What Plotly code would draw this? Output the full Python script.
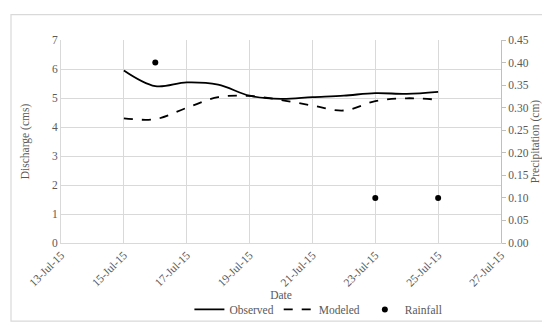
import plotly.graph_objects as go

dates = ["2015-07-15", "2015-07-16", "2015-07-17", "2015-07-18", "2015-07-19", "2015-07-20",
         "2015-07-21", "2015-07-22", "2015-07-23", "2015-07-24", "2015-07-25"]
observed = [5.95, 5.41, 5.54, 5.46, 5.08, 4.97, 5.03, 5.08, 5.17, 5.14, 5.21]
modeled = [4.30, 4.27, 4.66, 5.03, 5.07, 4.93, 4.74, 4.57, 4.89, 4.99, 4.94]
rain_dates = ["2015-07-16", "2015-07-23", "2015-07-25"]
rainfall = [0.40, 0.10, 0.10]

FONT = "Liberation Serif"
GRAY = "#595959"
GRID = "#d9d9d9"

fig = go.Figure()
fig.add_trace(go.Scatter(x=dates, y=observed, name="Observed", mode="lines",
                         line=dict(color="black", width=1.8, shape="spline", smoothing=1.0)))
fig.add_trace(go.Scatter(x=dates, y=modeled, name="Modeled", mode="lines",
                         line=dict(color="black", width=1.8, dash="dash", shape="spline", smoothing=1.0)))
fig.add_trace(go.Scatter(x=rain_dates, y=rainfall, name="Rainfall", mode="markers", yaxis="y2",
                         marker=dict(color="black", size=6)))

fig.update_layout(
    width=550, height=328,
    margin=dict(l=53, r=57, t=32, b=88),
    paper_bgcolor="white", plot_bgcolor="white",
    font=dict(family=FONT, size=11.5, color=GRAY),
    showlegend=True,
    legend=dict(orientation="h", x=0.585, xanchor="center", y=-0.327, yanchor="middle",
                font=dict(family=FONT, size=11.5, color=GRAY), itemwidth=30,
                bgcolor="rgba(0,0,0,0)"),
    xaxis=dict(type="date", range=["2015-07-13", "2015-07-27"], tick0="2015-07-13",
               dtick=2 * 86400000, tickformat="%-d-%b-%y", tickangle=-45,
               showgrid=True, gridcolor=GRID, gridwidth=1,
               showline=True, linecolor=GRID, linewidth=1, ticks="",
               title=dict(text="Date", font=dict(family=FONT, size=11.5, color=GRAY), standoff=2),
               zeroline=False),
    yaxis=dict(range=[0, 7], dtick=1, showgrid=True, gridcolor=GRID, gridwidth=1,
               showline=True, linecolor=GRID, ticks="", zeroline=False,
               title=dict(text="Discharge (cms)", font=dict(family=FONT, size=11.5, color=GRAY), standoff=19)),
    yaxis2=dict(range=[0, 0.45], dtick=0.05, tickformat=".2f", overlaying="y", side="right",
                showgrid=False, showline=True, linecolor="#bfbfbf", ticks="outside",
                ticklen=4, tickcolor="#bfbfbf", zeroline=False,
                title=dict(text="Precipitation (cm)", font=dict(family=FONT, size=11.5, color=GRAY), standoff=0)),
    shapes=[dict(type="rect", xref="paper", yref="paper",
                 x0=(3 - 53) / 440, x1=(543 - 53) / 440,
                 y0=(240 - 320) / 208, y1=(240 - 6) / 208,
                 line=dict(color="#d9d9d9", width=1.2), fillcolor="rgba(0,0,0,0)", layer="below")],
)

fig.write_html("out.html")
